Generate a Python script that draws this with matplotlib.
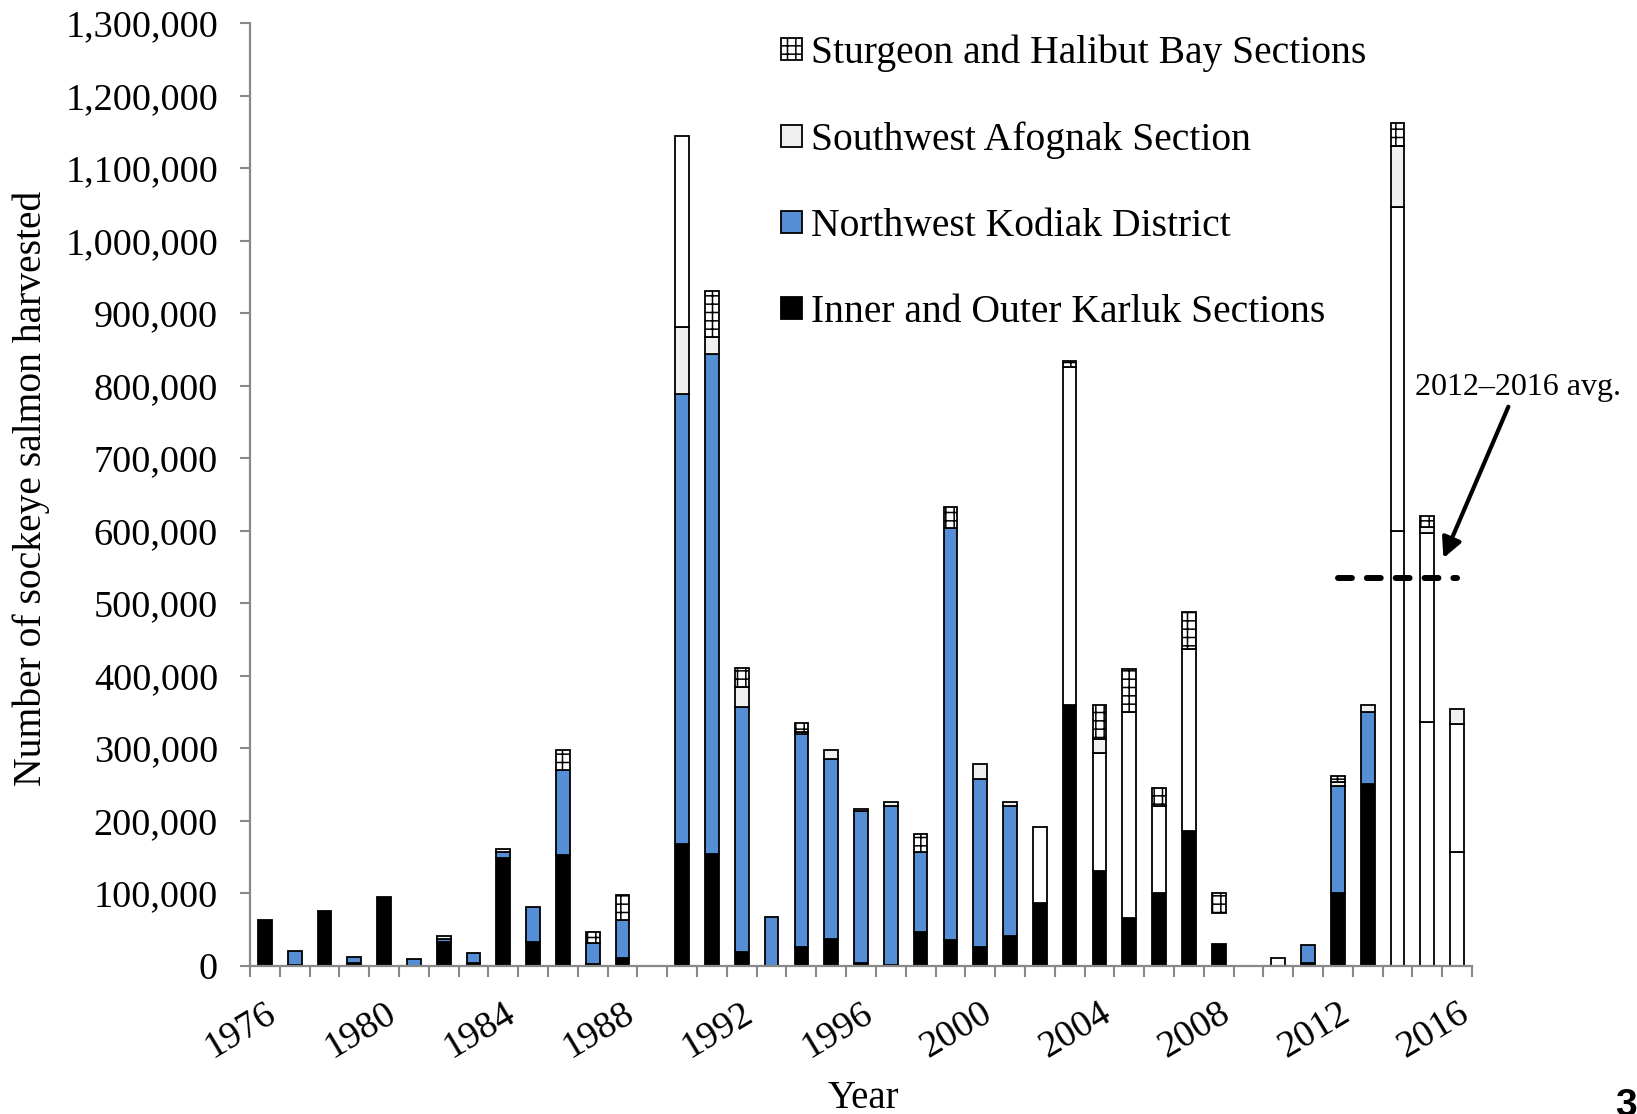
import numpy as np
import matplotlib
matplotlib.use("Agg")
import matplotlib.pyplot as plt
from matplotlib.patches import Patch
from matplotlib.ticker import FuncFormatter, MultipleLocator, FixedLocator

plt.rcParams["font.family"] = ["Liberation Serif", "DejaVu Serif"]
plt.rcParams["hatch.color"] = "black"
plt.rcParams["hatch.linewidth"] = 1.1

years = list(range(1976, 2017))

# Sockeye harvest by area, thousands of fish
karluk = [63, 1, 75, 3, 95, 0, 33, 3, 149, 32, 153, 2, 11, 0,
          167, 154, 18, 0, 26, 36, 4, 1, 46, 35, 25, 41,
          86, 359, 131, 65, 100, 186, 30, 0,
          0, 4, 100, 251, 0, 0, 0]
nw_kodiak = [0, 19, 0, 9, 0, 9, 4, 14, 7, 49, 117, 29, 52, 0,
             621, 690, 338, 67, 294, 249, 209, 219, 111, 568, 233, 179,
             0, 0, 0, 0, 0, 0, 0, 0,
             0, 24, 148, 99, 0, 0, 0]
other_lower = [0] * 26 + [105, 467, 162, 285, 120, 251, 0, 0,
                          11, 0, 0, 0, 599, 336, 157]
other_upper = [0] * 38 + [448, 261, 176]
unallocated = [0] * 32 + [43] + [0] * 8
sw_afognak = [0, 0, 0, 0, 0, 0, 4, 0, 5, 0, 0, 0, 0, 0,
              93, 23, 28, 0, 2, 12, 3, 6, 0, 0, 20, 6,
              0, 0, 19, 0, 0, 0, 0, 0,
              0, 0, 5, 10, 84, 8, 21]
sturgeon_halibut = [0, 0, 0, 0, 0, 0, 0, 0, 0, 0, 27, 15, 34, 0,
                    0, 64, 26, 0, 12, 0, 0, 0, 24, 30, 0, 0,
                    0, 8, 48, 59, 25, 51, 27, 0,
                    0, 0, 9, 0, 32, 15, 0]
other_top = [0] * 14 + [263] + [0] * 26

avg_2012_2016 = 534000
label_years = list(range(1976, 2017, 4))

BLUE = "#558ED5"
LIGHT = "#F0F0F0"
EDGE = dict(edgecolor="black", linewidth=1.3)

layers = [
    (karluk, dict(facecolor="black", **EDGE)),
    (nw_kodiak, dict(facecolor=BLUE, **EDGE)),
    (other_lower, dict(facecolor="white", **EDGE)),
    (other_upper, dict(facecolor="white", **EDGE)),
    (unallocated, dict(facecolor="none", edgecolor="none")),
    (sw_afognak, dict(facecolor=LIGHT, **EDGE)),
    (sturgeon_halibut, dict(facecolor="white", hatch="++", **EDGE)),
    (other_top, dict(facecolor="white", **EDGE)),
]

fig = plt.figure(figsize=(16.37, 11.14), dpi=100)
ax = fig.add_axes([250 / 1637, 1 - 965.5 / 1114, 1222 / 1637, 942.2 / 1114])

x = np.array(years, dtype=float)
bottom = np.zeros(len(years))
for vals, style in layers:
    v = np.asarray(vals, dtype=float) * 1000
    m = v > 0
    if m.any():
        ax.bar(x[m], v[m], bottom=bottom[m], width=0.46, zorder=2, **style)
    bottom += v

# 2012-2016 average marker
ax.plot([2012, 2016], [avg_2012_2016, avg_2012_2016], color="black", lw=4.3,
        dashes=(2.33, 2.5), dash_capstyle="round", zorder=4)
ax.annotate("", xy=(2015.54, 562000), xytext=(2017.72, 771000),
            arrowprops=dict(arrowstyle="-|>", lw=3, color="black",
                            mutation_scale=30, shrinkA=0, shrinkB=0),
            annotation_clip=False, zorder=5)
ax.text(2018.05, 787000, "2012\u20132016 avg.", ha="center", va="baseline",
        fontsize=23, clip_on=False)

ax.set_xlim(1975.5, 2016.5)
ax.set_ylim(0, 1300000)

ax.yaxis.set_major_locator(MultipleLocator(100000))
ax.yaxis.set_major_formatter(FuncFormatter(lambda v, p: f"{v:,.0f}"))
ax.xaxis.set_major_locator(FixedLocator(label_years))
ax.xaxis.set_minor_locator(FixedLocator(np.arange(1975.5, 2017, 1.0)))

GRAY = "#888888"
for s in ("top", "right"):
    ax.spines[s].set_visible(False)
for s in ("left", "bottom"):
    ax.spines[s].set_color(GRAY)
    ax.spines[s].set_linewidth(1.6)
    ax.spines[s].set_zorder(3)

ax.tick_params(axis="y", which="major", direction="out", length=7, width=1.5,
               color=GRAY, labelsize=27.5, pad=16)
ax.tick_params(axis="x", which="major", length=0, labelsize=27.5, pad=22)
ax.tick_params(axis="x", which="minor", direction="out", length=8, width=1.5,
               color=GRAY)
for lab in ax.get_xticklabels():
    lab.set_rotation(31)
    lab.set_ha("right")
    lab.set_va("top")
    lab.set_rotation_mode("anchor")

fig.text(31 / 1637, 1 - 488 / 1114, "Number of sockeye salmon harvested",
         rotation=90, ha="center", va="center", fontsize=28.5)
fig.text(863 / 1637, 1 - 1098 / 1114, "Year", ha="center", va="center",
         fontsize=28)
fig.text(1615 / 1637, 1 - 1088 / 1114, "3", ha="left", va="top", fontsize=28,
         fontweight="bold", family="Liberation Sans")

handles = [
    Patch(facecolor="white", edgecolor="black", hatch="++", linewidth=1.3,
          label="Sturgeon and Halibut Bay Sections"),
    Patch(facecolor=LIGHT, edgecolor="black", linewidth=1.3,
          label="Southwest Afognak Section"),
    Patch(facecolor=BLUE, edgecolor="black", linewidth=1.3,
          label="Northwest Kodiak District"),
    Patch(facecolor="black", edgecolor="black", linewidth=1.3,
          label="Inner and Outer Karluk Sections"),
]
ax.legend(handles=handles, loc="upper left",
          bbox_to_anchor=(781 / 1637, 1 - 35 / 1114),
          bbox_transform=fig.transFigure, frameon=False, borderpad=0,
          borderaxespad=0, handlelength=0.53, handleheight=0.48,
          handletextpad=0.23, labelspacing=1.24, fontsize=28.5)

fig.savefig("out.png", dpi=100)
